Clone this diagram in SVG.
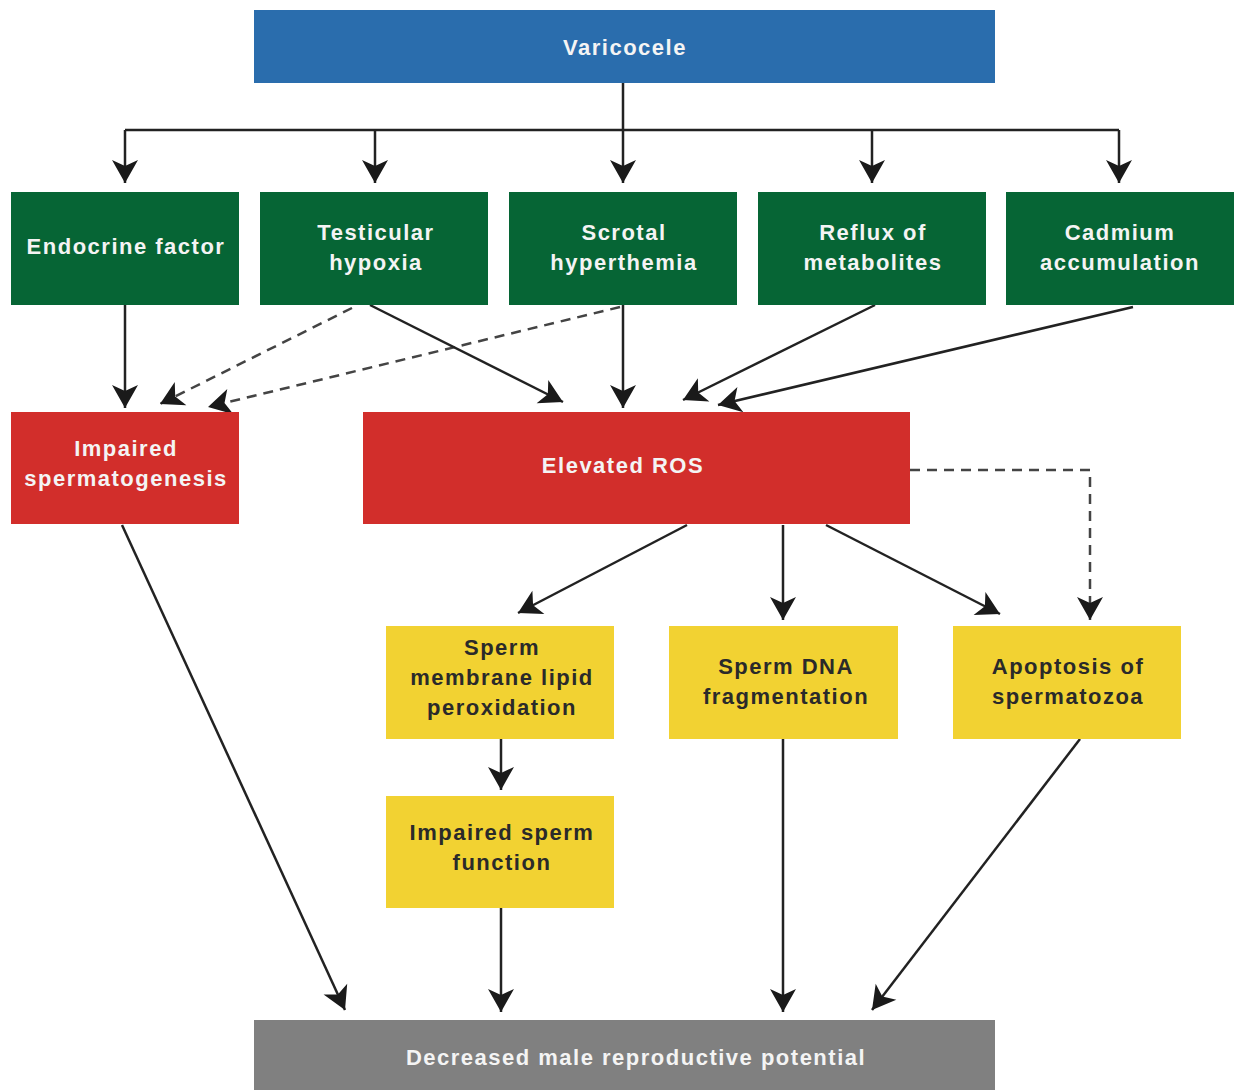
<svg xmlns="http://www.w3.org/2000/svg" width="1237" height="1090" viewBox="0 0 1237 1090">
<style>
.t{font-family:"Liberation Sans",Arial,sans-serif;font-weight:bold;font-size:22px;letter-spacing:1.5px;text-anchor:middle;dominant-baseline:central}
.w{fill:#f4f4f4}
.d{fill:#2a2a2a}
.c{fill:none;stroke:#222;stroke-width:2.5}
.dash{stroke-dasharray:10 7;stroke:#444}
</style>
<defs>
<marker id="ah" viewBox="-24 -14 26 28" refX="0" refY="0" markerWidth="26" markerHeight="28" markerUnits="userSpaceOnUse" orient="auto">
<path d="M0,0 L-23,-13 L-17,0 L-23,13 Z" fill="#1a1a1a"/>
</marker>
</defs>
<rect width="1237" height="1090" fill="#fff"/>
<g id="connectors">
<path class="c" d="M623,83 V130 M125,130 H1119"/>
<path class="c" d="M125,130 V183" marker-end="url(#ah)"/>
<path class="c" d="M375,130 V183" marker-end="url(#ah)"/>
<path class="c" d="M623,130 V183" marker-end="url(#ah)"/>
<path class="c" d="M872,130 V183" marker-end="url(#ah)"/>
<path class="c" d="M1119,130 V183" marker-end="url(#ah)"/>
<path class="c" d="M125,305 V408" marker-end="url(#ah)"/>
<path class="c dash" d="M352,308 L160,404" marker-end="url(#ah)"/>
<path class="c dash" d="M620,307 L208,407" marker-end="url(#ah)"/>
<path class="c" d="M370,305 L563,402" marker-end="url(#ah)"/>
<path class="c" d="M623,305 V408" marker-end="url(#ah)"/>
<path class="c" d="M875,305 L683,400" marker-end="url(#ah)"/>
<path class="c" d="M1133,307 L718,405" marker-end="url(#ah)"/>
<path class="c dash" d="M910,470 H1090 V620" marker-end="url(#ah)"/>
<path class="c" d="M687,525 L518,613" marker-end="url(#ah)"/>
<path class="c" d="M783,525 V620" marker-end="url(#ah)"/>
<path class="c" d="M826,525 L1000,614" marker-end="url(#ah)"/>
<path class="c" d="M501,739 V790" marker-end="url(#ah)"/>
<path class="c" d="M122,525 L345,1010" marker-end="url(#ah)"/>
<path class="c" d="M501,908 V1012" marker-end="url(#ah)"/>
<path class="c" d="M783,739 V1012" marker-end="url(#ah)"/>
<path class="c" d="M1080,739 L872,1010" marker-end="url(#ah)"/>
</g>
<g id="varicocele"><rect x="254" y="10" width="741" height="73" fill="#2a6dad"/><text class="t w" x="625" y="47">Varicocele</text></g>
<g id="endocrine"><rect x="11" y="192" width="228" height="113" fill="#066535"/><text class="t w" x="126" y="246">Endocrine factor</text></g>
<g id="hypoxia"><rect x="260" y="192" width="228" height="113" fill="#066535"/><text class="t w" x="376" y="232">Testicular</text><text class="t w" x="376" y="262">hypoxia</text></g>
<g id="hyperthemia"><rect x="509" y="192" width="228" height="113" fill="#066535"/><text class="t w" x="624" y="232">Scrotal</text><text class="t w" x="624" y="262">hyperthemia</text></g>
<g id="reflux"><rect x="758" y="192" width="228" height="113" fill="#066535"/><text class="t w" x="873" y="232">Reflux of</text><text class="t w" x="873" y="262">metabolites</text></g>
<g id="cadmium"><rect x="1006" y="192" width="228" height="113" fill="#066535"/><text class="t w" x="1120" y="232">Cadmium</text><text class="t w" x="1120" y="262">accumulation</text></g>
<g id="impaired-spermatogenesis"><rect x="11" y="412" width="228" height="112" fill="#d22e2b"/><text class="t w" x="126" y="448">Impaired</text><text class="t w" x="126" y="478">spermatogenesis</text></g>
<g id="elevated-ros"><rect x="363" y="412" width="547" height="112" fill="#d22e2b"/><text class="t w" x="623" y="465">Elevated ROS</text></g>
<g id="lipid"><rect x="386" y="626" width="228" height="113" fill="#f2d232"/><text class="t d" x="502" y="647">Sperm</text><text class="t d" x="502" y="677">membrane lipid</text><text class="t d" x="502" y="707">peroxidation</text></g>
<g id="dna"><rect x="669" y="626" width="229" height="113" fill="#f2d232"/><text class="t d" x="786" y="666">Sperm DNA</text><text class="t d" x="786" y="696">fragmentation</text></g>
<g id="apoptosis"><rect x="953" y="626" width="228" height="113" fill="#f2d232"/><text class="t d" x="1068" y="666">Apoptosis of</text><text class="t d" x="1068" y="696">spermatozoa</text></g>
<g id="impaired-function"><rect x="386" y="796" width="228" height="112" fill="#f2d232"/><text class="t d" x="502" y="832">Impaired sperm</text><text class="t d" x="502" y="862">function</text></g>
<g id="decreased"><rect x="254" y="1020" width="741" height="70" fill="#808080"/><text class="t w" x="636" y="1057">Decreased male reproductive potential</text></g>
</svg>
